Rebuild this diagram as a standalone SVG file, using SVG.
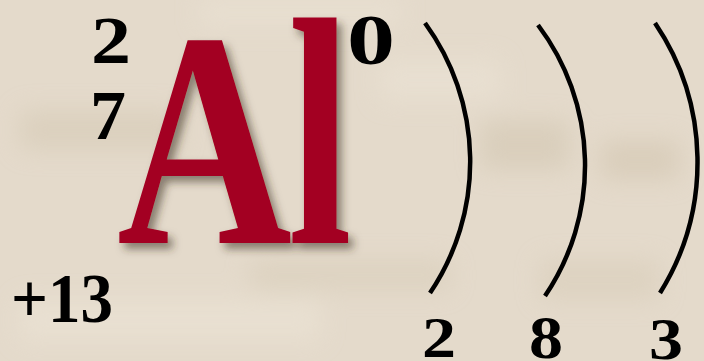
<svg xmlns="http://www.w3.org/2000/svg" width="704" height="361" viewBox="0 0 704 361">
<style>
.num{font-family:"Liberation Serif","Times New Roman",serif;font-weight:bold;fill:#000}
.sym{font-family:"Liberation Serif","Times New Roman",serif;font-weight:bold;fill:#a30023}
.shell{fill:none;stroke:#000;stroke-width:4.5}
</style>
<defs>
<filter id="bgblur" x="-10%" y="-10%" width="120%" height="120%"><feGaussianBlur stdDeviation="12"/></filter>
<filter id="shadow" x="-10%" y="-10%" width="130%" height="130%"><feDropShadow dx="5" dy="6" stdDeviation="4" flood-color="#3a3020" flood-opacity="0.55"/></filter>
</defs>
<g id="background">
<rect width="704" height="361" fill="#e4dacb"/>
<g filter="url(#bgblur)" opacity="0.6">
<rect x="20" y="110" width="160" height="40" fill="#d6cab6"/>
<rect x="250" y="260" width="200" height="30" fill="#d8cdb9"/>
<rect x="480" y="120" width="90" height="50" fill="#d3c7b2"/>
<rect x="600" y="140" width="80" height="40" fill="#d3c6b1"/>
<rect x="20" y="300" width="300" height="40" fill="#ece4d6"/>
<rect x="380" y="60" width="120" height="40" fill="#ebe3d5"/>
<rect x="200" y="0" width="200" height="25" fill="#ebe3d5"/>
<rect x="540" y="260" width="120" height="40" fill="#d9ceba"/>
</g>
</g>
<g id="element" filter="url(#shadow)">
<text class="sym" x="117" y="243" font-size="307" textLength="175" lengthAdjust="spacingAndGlyphs">A</text>
<text class="sym" x="288" y="243" font-size="325" textLength="64" lengthAdjust="spacingAndGlyphs">l</text>
</g>
<g id="mass-number">
<text class="num" x="91" y="63" font-size="68" textLength="40" lengthAdjust="spacingAndGlyphs">2</text>
<text class="num" x="90" y="139" font-size="70" textLength="36" lengthAdjust="spacingAndGlyphs">7</text>
</g>
<g id="charge">
<text class="num" x="347" y="64" font-size="72" textLength="48" lengthAdjust="spacingAndGlyphs">0</text>
</g>
<g id="nuclear-charge">
<text class="num" x="11" y="322" font-size="70" textLength="102" lengthAdjust="spacingAndGlyphs">+13</text>
</g>
<g id="connectors">
<path class="shell" d="M425,23 A235,235 0 0 1 430,293"/>
<path class="shell" d="M538,25 A233,233 0 0 1 545,296"/>
<path class="shell" d="M655,23 A248,248 0 0 1 660,293"/>
</g>
<g id="electrons">
<text class="num" x="422" y="357" font-size="58" textLength="34" lengthAdjust="spacingAndGlyphs">2</text>
<text class="num" x="529" y="358" font-size="62" textLength="34" lengthAdjust="spacingAndGlyphs">8</text>
<text class="num" x="649" y="359" font-size="60" textLength="34" lengthAdjust="spacingAndGlyphs">3</text>
</g>
</svg>
